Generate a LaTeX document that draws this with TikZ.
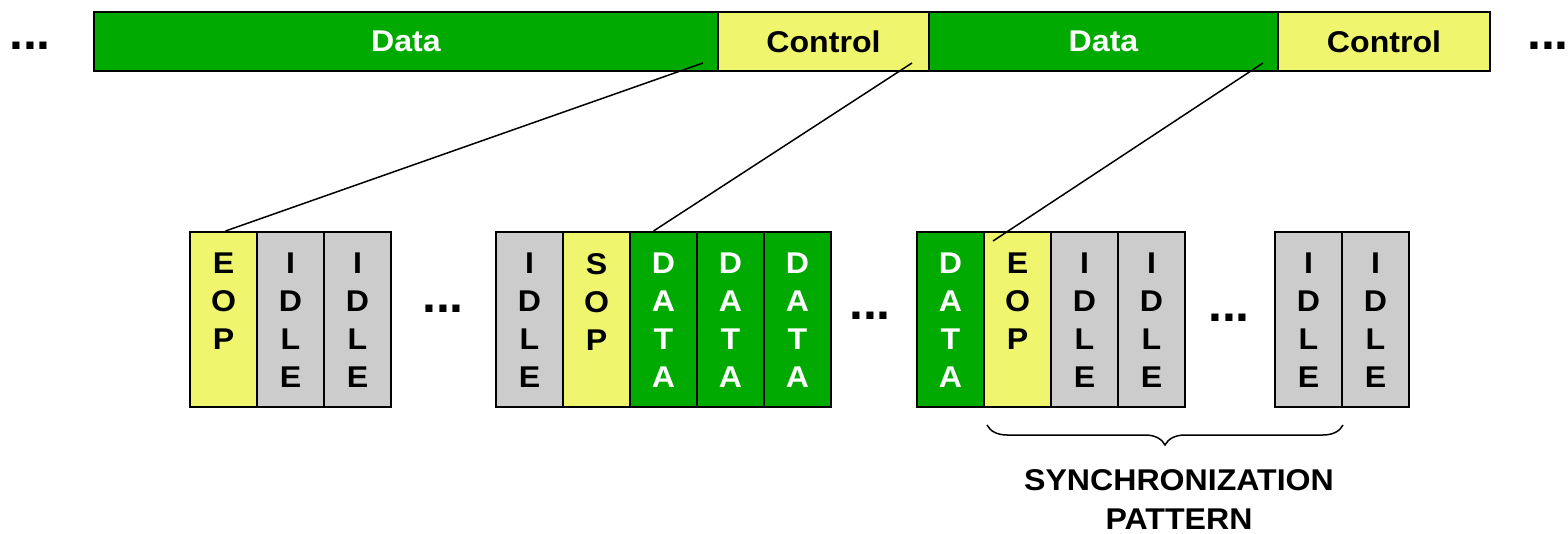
\documentclass[tikz,border=0pt]{standalone}
\usepackage{fontspec}
\setmainfont{Liberation Sans}
\newfontfamily\widesans[FakeStretch=1.07]{Liberation Sans}
\usetikzlibrary{calc,decorations.pathreplacing}
\definecolor{datagreen}{RGB}{0,170,0}
\definecolor{ctrlyellow}{RGB}{240,245,110}
\definecolor{idlegrey}{RGB}{204,204,204}
\newcommand{\makeslot}[5]{
	\node[slot, fill=#3] (#1) at (#2,231) {};
	\node[letters, text=#4] (#1txt) at ($(#1.north)+(0,22)$) {#5};
}

\begin{document}
\begin{tikzpicture}[x=1pt,y=-1pt,
	seg/.style={draw, line width=2pt, anchor=north west, inner sep=0pt, minimum height=59pt, font=\widesans\fontsize{30}{30}\selectfont\bfseries},
	slot/.style={draw, line width=2pt, anchor=north west, inner sep=0pt, minimum width=67pt, minimum height=175pt},
	letters/.style={anchor=north, inner sep=0pt, align=center, font=\widesans\fontsize{30}{38}\selectfont\bfseries},
	ellip/.style={anchor=base, inner sep=0pt, font=\fontsize{50}{50}\selectfont\bfseries},
	wire/.style={line width=1.5pt}]
	\useasboundingbox (0,0) rectangle (1568,534);

	% frame stream on top
	\node[ellip] (dotsL) at (30,50) {...};
	\node[seg, fill=datagreen, text=white, minimum width=624pt] (dataT1) at (93,11) {Data};
	\node[seg, fill=ctrlyellow, minimum width=211pt] (ctrlT1) at (717,11) {Control};
	\node[seg, fill=datagreen, text=white, minimum width=349pt] (dataT2) at (928,11) {Data};
	\node[seg, fill=ctrlyellow, minimum width=212pt] (ctrlT2) at (1277,11) {Control};
	\node[ellip] (dotsR) at (1548,50) {...};

	% control words
	\makeslot{eopA}{189}{ctrlyellow}{black}{E\\O\\P}
	\makeslot{idleA}{256}{idlegrey}{black}{I\\D\\L\\E}
	\makeslot{idleB}{323}{idlegrey}{black}{I\\D\\L\\E}
	\node[ellip] (dotsA) at (443,313) {...};

	\makeslot{idleC}{495}{idlegrey}{black}{I\\D\\L\\E}
	\makeslot{sopA}{562}{ctrlyellow}{black}{S\\O\\P}
	\makeslot{dataA}{629}{datagreen}{white}{D\\A\\T\\A}
	\makeslot{dataB}{696}{datagreen}{white}{D\\A\\T\\A}
	\makeslot{dataC}{763}{datagreen}{white}{D\\A\\T\\A}
	\node[ellip] (dotsB) at (870,320) {...};

	\makeslot{dataD}{916}{datagreen}{white}{D\\A\\T\\A}
	\makeslot{eopB}{983}{ctrlyellow}{black}{E\\O\\P}
	\makeslot{idleD}{1050}{idlegrey}{black}{I\\D\\L\\E}
	\makeslot{idleE}{1117}{idlegrey}{black}{I\\D\\L\\E}
	\node[ellip] (dotsC) at (1229,322) {...};

	\makeslot{idleF}{1274}{idlegrey}{black}{I\\D\\L\\E}
	\makeslot{idleG}{1341}{idlegrey}{black}{I\\D\\L\\E}

	% zoom lines
	\coordinate (tapA) at (703,63);
	\coordinate (tapB) at (912,63);
	\coordinate (tapC) at (1263,63);
	\draw[wire] (tapA) -- ($(eopA.north)+(2,0)$);
	\draw[wire] (tapB) -- ($(dataA.north)+(-10,0)$);
	\draw[wire] (tapC) -- ($(eopB.north west)+(10,10)$);

	% sync pattern
	\draw[line width=1.5pt, decorate, decoration={brace, mirror, amplitude=20pt}]
		($(eopB.south west)+(4,17)$) -- ($(idleF.south east)+(0,17)$);
	\node[align=center, inner sep=0pt, font=\widesans\fontsize{30}{39}\selectfont\bfseries] (sync) at (1179,500) {SYNCHRONIZATION\\PATTERN};
\end{tikzpicture}
\end{document}
